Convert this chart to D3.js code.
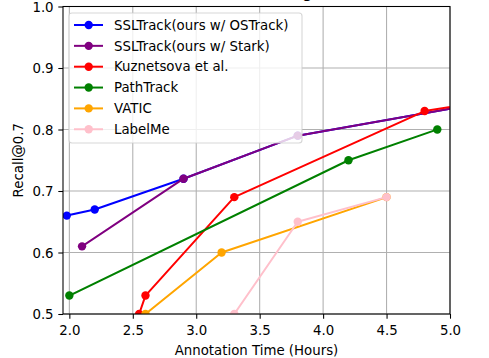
<!DOCTYPE html>
<html>
<head>
<meta charset="utf-8">
<script src="https://cdn.jsdelivr.net/npm/d3@7/dist/d3.min.js"></script>
<style>
  html, body { margin: 0; padding: 0; background: #ffffff; }
  svg { display: block; }
  text { font-family: "DejaVu Sans", sans-serif; fill: #000; }
</style>
</head>
<body>
<svg id="chart" width="489" height="358"></svg>
<script>
// ---- data ----
const seriesNames = ["SSLTrack(ours w/ OSTrack)", "SSLTrack(ours w/ Stark)", "Kuznetsova et al.", "PathTrack", "VATIC", "LabelMe"];
const seriesColors = ["blue", "purple", "red", "green", "orange", "pink"];
const osTrackX = [1.98, 2.2, 2.9, 3.8, 6.0];
const osTrackY = [0.66, 0.67, 0.72, 0.79, 0.87];
const starkX = [2.1, 2.9, 3.8, 6.0];
const starkY = [0.61, 0.72, 0.79, 0.87];
const kuznetsovaX = [2.55, 2.6, 3.3, 4.8, 6.0];
const kuznetsovaY = [0.50, 0.53, 0.69, 0.83, 0.87];
const pathTrackX = [2.0, 4.2, 4.9];
const pathTrackY = [0.53, 0.75, 0.80];
const vaticX = [2.6, 3.2, 4.5];
const vaticY = [0.50, 0.60, 0.69];
const labelMeX = [3.3, 3.8, 4.5];
const labelMeY = [0.50, 0.65, 0.69];
const xTicks = [2.0, 2.5, 3.0, 3.5, 4.0, 4.5, 5.0];
const yTicks = [0.5, 0.6, 0.7, 0.8, 0.9, 1.0];
const xDomain = [1.95, 5.0];
const yDomain = [0.5, 1.0];
const titleText = "Recall vs. Time for Tracking Annotations";
const xLabel = "Annotation Time (Hours)";
const yLabel = "Recall@0.7";

const seriesX = [osTrackX, starkX, kuznetsovaX, pathTrackX, vaticX, labelMeX];
const seriesY = [osTrackY, starkY, kuznetsovaY, pathTrackY, vaticY, labelMeY];
const series = seriesNames.map((name, i) => ({
  name, color: seriesColors[i],
  points: seriesX[i].map((x, j) => ({x, y: seriesY[i][j]}))
}));

// ---- layout ----
const svg = d3.select("#chart");
const L = 63, R = 450, T = 6.5, B = 314;
const x = d3.scaleLinear().domain(xDomain).range([L, R]);
const y = d3.scaleLinear().domain(yDomain).range([B, T]);
const fs = 13.33;

svg.append("rect").attr("width", 489).attr("height", 358).attr("fill", "#fff");

// title (mostly outside the picture, as in the reference)
svg.append("text").attr("x", (L + R) / 2 - 3).attr("y", -2)
  .attr("text-anchor", "middle").attr("font-size", 16).text(titleText);

svg.append("defs").append("clipPath").attr("id", "clip")
  .append("rect").attr("x", L).attr("y", T).attr("width", R - L).attr("height", B - T);

// grid
const grid = svg.append("g").attr("stroke", "#b0b0b0").attr("stroke-width", 1.07);
xTicks.forEach(t => grid.append("line").attr("x1", x(t)).attr("x2", x(t)).attr("y1", T).attr("y2", B));
yTicks.forEach(t => grid.append("line").attr("y1", y(t)).attr("y2", y(t)).attr("x1", L).attr("x2", R));

// series
const plot = svg.append("g").attr("clip-path", "url(#clip)");
const line = d3.line().x(d => x(d.x)).y(d => y(d.y));
series.forEach(s => {
  plot.append("path").datum(s.points).attr("d", line)
    .attr("fill", "none").attr("stroke", s.color).attr("stroke-width", 2)
    .attr("stroke-linejoin", "round").attr("stroke-linecap", "square");
  plot.selectAll(null).data(s.points).enter().append("circle")
    .attr("cx", d => x(d.x)).attr("cy", d => y(d.y)).attr("r", 4.2)
    .attr("fill", s.color);
});

// axes
const xAxis = d3.axisBottom(x).tickValues(xTicks).tickFormat(d3.format(".1f")).tickSizeOuter(0).tickSize(4.7).tickPadding(4.7);
const yAxis = d3.axisLeft(y).tickValues(yTicks).tickFormat(d3.format(".1f")).tickSizeOuter(0).tickSize(4.7).tickPadding(4.7);
const gx = svg.append("g").attr("transform", `translate(0,${B})`).call(xAxis);
const gy = svg.append("g").attr("transform", `translate(${L},0)`).call(yAxis);
[gx, gy].forEach(g => {
  g.select(".domain").remove();
  g.selectAll(".tick line").attr("stroke", "#000").attr("stroke-width", 1.07);
  g.selectAll(".tick text").attr("font-size", fs).attr("font-family", "DejaVu Sans").attr("fill", "#000");
});
gx.selectAll(".tick text").attr("dy", "0.9em");
gy.selectAll(".tick text").attr("dy", "0.36em");

// spines
svg.append("rect").attr("x", L).attr("y", T).attr("width", R - L).attr("height", B - T)
  .attr("fill", "none").attr("stroke", "#000").attr("stroke-width", 1.07);

// axis labels
svg.append("text").attr("x", (L + R) / 2).attr("y", 355).attr("text-anchor", "middle")
  .attr("font-size", fs).text(xLabel);
svg.append("text").attr("transform", `translate(23,${(T + B) / 2}) rotate(-90)`)
  .attr("text-anchor", "middle").attr("font-size", fs).text(yLabel);

// legend
const lg = svg.append("g");
lg.append("rect").attr("x", 69).attr("y", 13).attr("width", 233).attr("height", 130)
  .attr("rx", 3).attr("fill", "#fff").attr("fill-opacity", 0.8)
  .attr("stroke", "#cccccc").attr("stroke-opacity", 0.8).attr("stroke-width", 1.07);
series.forEach((s, i) => {
  const cy = 25 + i * 20.85;
  lg.append("line").attr("x1", 74).attr("x2", 103).attr("y1", cy).attr("y2", cy)
    .attr("stroke", s.color).attr("stroke-width", 2);
  lg.append("circle").attr("cx", 88.7).attr("cy", cy).attr("r", 4.2).attr("fill", s.color);
  lg.append("text").attr("x", 114).attr("y", cy).attr("dy", "0.36em")
    .attr("font-size", fs).text(s.name);
});
</script>
</body>
</html>
